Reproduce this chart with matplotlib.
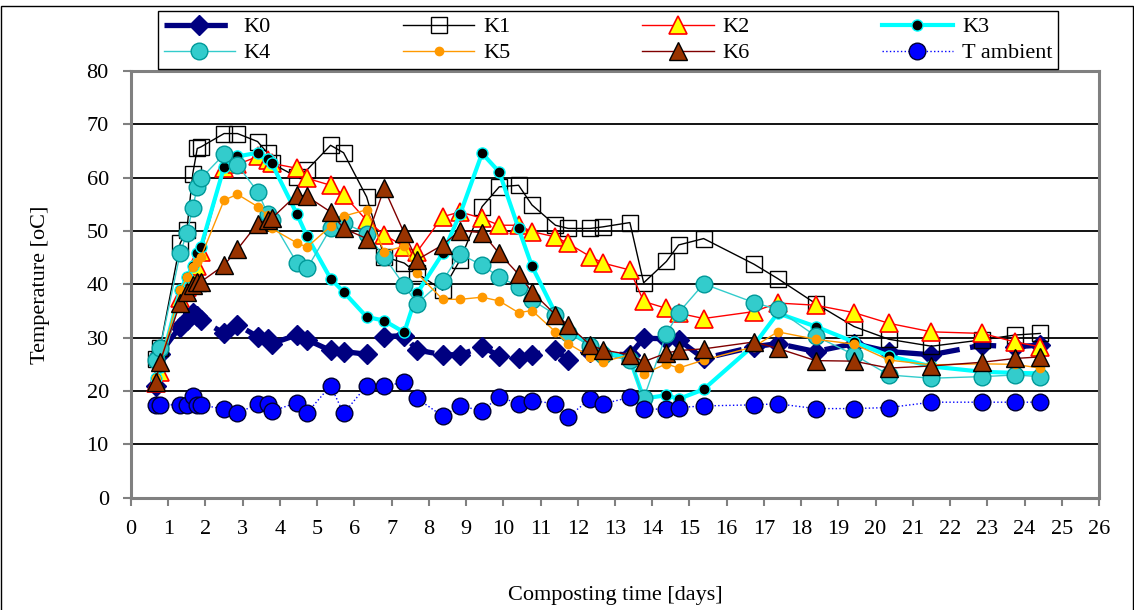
import matplotlib
matplotlib.use("Agg")
from matplotlib import pyplot as plt
from matplotlib.patches import Rectangle

plt.rcParams['font.family'] = 'Liberation Serif'

# sampling times (days)
days = [0.67, 0.78, 1.32, 1.50, 1.66, 1.78, 1.88, 2.50, 2.86, 3.40, 3.67, 3.78,
        4.45, 4.73, 5.36, 5.71, 6.33, 6.80, 7.34, 7.68, 8.37, 8.84, 9.43, 9.89,
        10.41, 10.77, 11.40, 11.74, 12.34, 12.68, 13.40, 13.77, 14.38, 14.71,
        15.38, 16.73, 17.37, 18.39, 19.42, 20.36, 21.50, 22.87, 23.74, 24.42]

# temperatures per pile
k0 = [21.0, 27.0, 32.1, 33.3, 34.6, 34.0, 33.4, 30.8, 32.4, 30.2, 29.7, 28.9,
      30.5, 29.6, 27.6, 27.4, 26.9, 30.2, 30.4, 27.7, 26.8, 26.8, 28.3, 26.6,
      26.1, 26.8, 27.7, 25.8, 27.3, 27.0, 26.8, 29.9, 29.8, 29.6,
      26.1, 28.3, 28.9, 27.4, 28.9, 27.4, 26.8, 28.6, 28.3, 28.6]
k1 = [26.0, 28.0, 47.7, 50.2, 60.8, 65.5, 65.8, 68.3, 68.3, 66.8, 64.6, 62.7,
      60.2, 61.5, 66.1, 64.7, 56.4, 45.2, 44.0, 42.1, 38.9, 44.6, 54.6, 58.3,
      58.6, 54.9, 51.1, 50.5, 50.5, 50.8, 51.6, 40.3, 44.3, 47.4,
      48.6, 43.8, 41.1, 36.4, 32.1, 29.7, 28.4, 29.6, 30.5, 30.8]
k2 = [21.5, 23.5, 37.5, 39.5, 41.5, 43.5, 46.0, 61.8, 62.5, 64.0, 63.3, 62.7,
      61.8, 59.9, 58.6, 56.8, 52.0, 49.3, 47.1, 46.1, 52.7, 53.6, 52.4, 51.1,
      51.1, 49.9, 48.9, 47.7, 45.2, 44.0, 42.7, 36.8, 35.5, 34.6,
      33.6, 34.9, 36.5, 36.1, 34.7, 32.7, 31.1, 30.8, 29.2, 28.3]
k3 = [22.5, 24.5, 38.9, 41.4, 43.4, 45.9, 47.1, 62.0, 64.0, 64.7, 63.6, 62.7,
      53.3, 49.0, 41.1, 38.6, 33.9, 33.2, 31.0, 38.3, 45.8, 53.2, 64.6, 61.1,
      50.5, 43.4, 34.6, 31.5, 28.6, 27.5, 26.0, 18.6, 19.2, 18.5,
      20.3, 28.6, 34.6, 32.1, 29.2, 26.6, 24.6, 23.6, 23.4, 23.3]
k4 = [25.8, 28.0, 45.8, 49.6, 54.4, 58.3, 59.9, 64.4, 62.4, 57.4, 53.3, 52.1,
      44.1, 43.0, 50.5, 51.6, 49.5, 45.2, 39.8, 36.4, 40.7, 45.7, 43.6, 41.4,
      39.6, 37.1, 34.3, 30.8, 28.5, 26.8, 25.8, 18.6, 30.7, 34.7,
      40.1, 36.6, 35.3, 30.3, 26.8, 23.0, 22.4, 22.7, 23.0, 22.7]
k5 = [22.5, 25.0, 38.9, 41.4, 43.3, 44.2, 45.2, 55.8, 56.9, 54.6, 53.0, 50.5,
      47.8, 47.0, 50.9, 52.8, 54.0, 46.1, 47.2, 42.1, 37.2, 37.2, 37.6, 36.9,
      34.7, 35.1, 31.1, 28.9, 26.4, 25.5, 26.8, 23.2, 25.1, 24.3,
      25.8, 28.3, 31.1, 29.7, 28.8, 25.8, 24.9, 25.1, 25.0, 24.3]
k6 = [21.7, 25.5, 36.5, 38.6, 39.9, 40.5, 40.5, 43.6, 46.6, 51.4, 52.1, 52.4,
      56.8, 56.5, 53.6, 50.5, 48.6, 58.0, 49.6, 44.6, 47.4, 50.1, 49.7, 45.8,
      41.9, 38.6, 34.3, 32.4, 28.6, 27.7, 26.8, 25.5, 27.1, 27.6,
      27.9, 29.2, 28.0, 25.7, 25.6, 24.3, 24.7, 25.4, 26.1, 26.4]
t_ambient = [17.4, 17.4, 17.4, 17.4, 19.1, 17.4, 17.4, 16.6, 15.8, 17.6, 17.6, 16.2,
             17.8, 15.9, 21.0, 15.8, 21.0, 21.0, 21.6, 18.6, 15.3, 17.2, 16.3, 18.9,
             17.6, 18.2, 17.6, 15.2, 18.5, 17.6, 18.8, 16.6, 16.6, 16.9,
             17.2, 17.4, 17.6, 16.7, 16.7, 16.9, 17.9, 17.9, 17.9, 17.9]

fig = plt.figure(figsize=(11.34, 6.10), dpi=100)
ax = fig.add_axes([131/1134, 1-497.6/610, (1099-131)/1134, (497.6-71.2)/610])

# series, drawn in the same order as the spreadsheet
h0, = ax.plot(days, k0, color='#000080', lw=3.8, linestyle=(0, (5, 2)),
              marker='D', ms=10, mfc='#000080', mec='#000080', label='K0')
h1, = ax.plot(days, k1, color='black', lw=1, marker='s', ms=11,
              mfc='none', mec='black', mew=1, label='K1')
h2, = ax.plot(days, k2, color='#FF0000', lw=1, marker='^', ms=13,
              mfc='#FFFF00', mec='#FF0000', mew=1.2, label='K2')
h3, = ax.plot(days, k3, color='#00FFFF', lw=3, marker='o', ms=8,
              mfc='black', mec='#00FFFF', mew=1, label='K3')
h4, = ax.plot(days, k4, color='#33CCCC', lw=1, marker='o', ms=12,
              mfc='#33CCCC', mec='#009999', mew=1, label='K4')
h5, = ax.plot(days, k5, color='#FF9900', lw=1, marker='o', ms=6,
              mfc='#FF9900', mec='#FF9900', label='K5')
h6, = ax.plot(days, k6, color='#800000', lw=1, marker='^', ms=13,
              mfc='#993300', mec='black', mew=1, label='K6')
h7, = ax.plot(days, t_ambient, color='#0000FF', lw=1, linestyle=':',
              marker='o', ms=12, mfc='#0000FF', mec='#000033', mew=1, label='T ambient')

ax.set_xlim(0, 26)
ax.set_ylim(0, 80)
ax.set_xticks(range(0, 27))
ax.set_yticks(range(0, 81, 10))
ax.tick_params(axis='both', labelsize=16, color='#808080', length=6, width=1.5)
ax.tick_params(axis='x', pad=10)
ax.tick_params(axis='y', pad=10)
ax.yaxis.grid(True, color='black', lw=1.3)
ax.set_axisbelow(True)
for s in ax.spines.values():
    s.set_color('#808080')
    s.set_linewidth(2.2)

ax.set_xlabel('Composting time [days]', fontsize=16, labelpad=34)
ax.set_ylabel('Temperature [oC]', fontsize=16, labelpad=26)

# legend filled row by row like the original
handles = [h0, h4, h1, h5, h2, h6, h3, h7]
labels = [h.get_label() for h in handles]
leg = fig.legend(handles, labels, ncol=4, loc='lower left',
                 bbox_to_anchor=(158/1134, 1-69/610, 900/1134, 61/610),
                 bbox_transform=fig.transFigure, mode='expand',
                 fancybox=False, edgecolor='black', framealpha=1,
                 borderaxespad=0, borderpad=0.25, labelspacing=0.25,
                 handlelength=3.2, handletextpad=0.4, fontsize=16)
leg.get_frame().set_linewidth(1.0)

# outer chart border
fig.add_artist(Rectangle((0.5/1134, -0.01), 1132/1134, 1.0, transform=fig.transFigure,
                         fill=False, edgecolor='black', lw=1))

fig.savefig('out.png', dpi=100)
